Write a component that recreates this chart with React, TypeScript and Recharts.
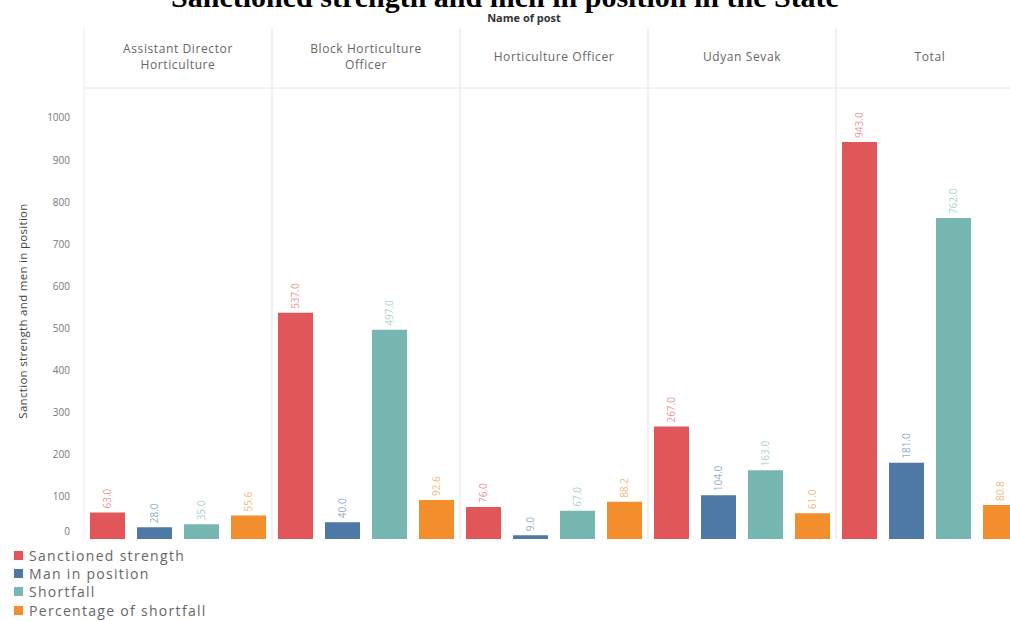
import { BarChart, Bar, XAxis, YAxis, LabelList } from "recharts";

/* ---------- data ---------- */
const POSTS = [
  "Assistant Director Horticulture",
  "Block Horticulture Officer",
  "Horticulture Officer",
  "Udyan Sevak",
  "Total",
];
const HEADER_LINES = [
  ["Assistant Director", "Horticulture"],
  ["Block Horticulture", "Officer"],
  ["Horticulture Officer"],
  ["Udyan Sevak"],
  ["Total"],
];
const SANCTIONED = [63, 537, 76, 267, 943];
const MEN_IN_POSITION = [28, 40, 9, 104, 181];
const SHORTFALL = [35, 497, 67, 163, 762];
const PCT_SHORTFALL = [55.6, 92.6, 88.2, 61.0, 80.8];
const Y_TICKS = [0, 100, 200, 300, 400, 500, 600, 700, 800, 900, 1000];

const SERIES = [
  { key: "sanctioned", name: "Sanctioned strength", color: "#e15759" },
  { key: "men", name: "Man in position", color: "#4e79a7" },
  { key: "shortfall", name: "Shortfall", color: "#76b7b2" },
  { key: "pct", name: "Percentage of shortfall", color: "#f28e2b" },
];

const data = POSTS.map((post, i) => ({
  post,
  sanctioned: SANCTIONED[i],
  men: MEN_IN_POSITION[i],
  shortfall: SHORTFALL[i],
  pct: PCT_SHORTFALL[i],
}));

/* ---------- layout ---------- */
const CHART_W = 1030;
const CHART_H = 621;
const PLOT_LEFT = 84;
const PLOT_RIGHT = 1024;
const HEADER_TOP = 28;
const PLOT_TOP = 88;
const PLOT_BOTTOM = 539;
const BAND = (PLOT_RIGHT - PLOT_LEFT) / POSTS.length;
const FONT = "'Open Sans', Lato, sans-serif";

function HeaderTick(props: any) {
  const { x, payload } = props;
  const idx = POSTS.indexOf(payload.value);
  const lines = HEADER_LINES[idx] || [payload.value];
  const mid = (HEADER_TOP + PLOT_TOP) / 2 - 1;
  const lh = 16;
  const start = mid - ((lines.length - 1) * lh) / 2;
  const left = x - BAND / 2;
  return (
    <g>
      <line
        x1={left}
        x2={left}
        y1={HEADER_TOP}
        y2={PLOT_BOTTOM}
        stroke={idx === 0 ? "#ececec" : "#e3e3e3"}
      />
      {lines.map((l, k) => (
        <text
          key={k}
          x={x}
          y={start + k * lh}
          dy="0.35em"
          textAnchor="middle"
          fontSize={12}
          letterSpacing={0.6}
          fontFamily={FONT}
          fill="#666"
        >
          {l}
        </text>
      ))}
    </g>
  );
}

function YTick(props: any) {
  const { y, payload } = props;
  return (
    <text
      x={70}
      y={payload.value === 0 ? y - 8 : y}
      dy="0.35em"
      textAnchor="end"
      fontSize={10}
      fontFamily={FONT}
      fill="#777"
    >
      {payload.value}
    </text>
  );
}

function makeLabel(color: string) {
  return (props: any) => {
    const { x, y, width, value } = props;
    const cx = x + width / 2;
    const cy = y - 4;
    return (
      <text
        x={cx}
        y={cy}
        dy="0.35em"
        transform={`rotate(-90 ${cx} ${cy})`}
        textAnchor="start"
        fontSize={10}
        fontFamily={FONT}
        fill={color}
        fillOpacity={0.65}
      >
        {Number(value).toFixed(1)}
      </text>
    );
  };
}

export default function App() {
  return (
    <div
      style={{
        position: "absolute",
        left: 0,
        top: 0,
        width: 1010,
        height: 621,
        overflow: "hidden",
        background: "#fff",
        fontFamily: FONT,
      }}
    >
      <div
        style={{
          position: "absolute",
          left: 0,
          width: 1010,
          top: -20,
          textAlign: "center",
          fontFamily: "'Liberation Serif', 'DejaVu Serif', serif",
          fontWeight: "bold",
          fontSize: 30,
          lineHeight: "34px",
          color: "#000",
        }}
      >
        Sanctioned strength and men in position in the State
      </div>
      <div
        style={{
          position: "absolute",
          left: 474,
          width: 100,
          top: 11,
          textAlign: "center",
          fontWeight: "bold",
          fontSize: 11,
          lineHeight: "13px",
          color: "#333",
        }}
      >
        Name of post
      </div>

      <BarChart
        width={CHART_W}
        height={CHART_H}
        data={data}
        margin={{ top: HEADER_TOP, right: CHART_W - PLOT_RIGHT, bottom: CHART_H - PLOT_BOTTOM, left: 0 }}
        barSize={35}
        barGap={12}
      >
        <XAxis
          dataKey="post"
          orientation="top"
          height={PLOT_TOP - HEADER_TOP}
          tickLine={false}
          axisLine={{ stroke: "#e6e6e6" }}
          tick={<HeaderTick />}
          interval={0}
        />
        <YAxis
          width={PLOT_LEFT}
          domain={[0, 1071]}
          ticks={Y_TICKS}
          axisLine={false}
          tickLine={false}
          tick={<YTick />}
        />
        {SERIES.map((s) => (
          <Bar key={s.key} dataKey={s.key} name={s.name} fill={s.color} isAnimationActive={false}>
            <LabelList dataKey={s.key} content={makeLabel(s.color)} />
          </Bar>
        ))}
      </BarChart>

      <div
        style={{
          position: "absolute",
          left: 22,
          top: 311,
          transform: "translate(-50%, -50%) rotate(-90deg)",
          whiteSpace: "nowrap",
          fontSize: 11.5,
          letterSpacing: 0.3,
          color: "#444",
        }}
      >
        Sanction strength and men in position
      </div>

      <div style={{ position: "absolute", left: 14, top: 546 }}>
        {SERIES.map((s) => (
          <div
            key={s.key}
            style={{ display: "flex", alignItems: "center", height: 18.3 }}
          >
            <div style={{ width: 9, height: 9, background: s.color, marginRight: 6 }} />
            <span style={{ fontSize: 14, letterSpacing: 1.3, color: "#666" }}>{s.name}</span>
          </div>
        ))}
      </div>
    </div>
  );
}
